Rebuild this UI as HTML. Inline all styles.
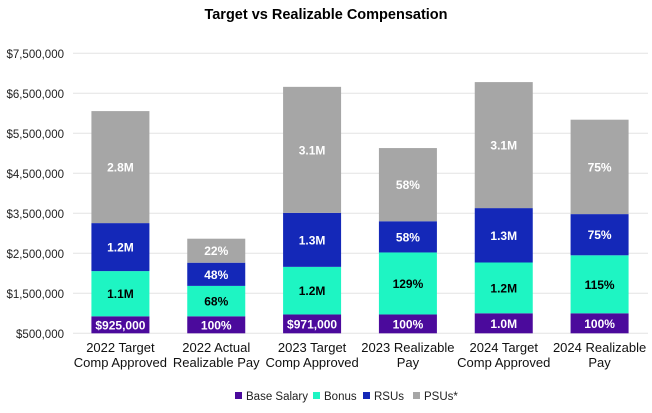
<!DOCTYPE html>
<html><head><meta charset="utf-8"><style>
body{margin:0;background:#fff;width:652px;height:408px;overflow:hidden;font-family:"Liberation Sans",Arial,sans-serif}
svg text{font-family:"Liberation Sans",Arial,sans-serif}
</style></head><body>
<svg id="chart" width="652" height="408" viewBox="0 0 652 408">
<text x="326" y="19" text-anchor="middle" font-size="14.5" font-weight="bold" fill="#000">Target vs Realizable Compensation</text>
<g id="grid"></g><g id="bars"></g><g id="xlabels"></g>
<g font-size="11.5" fill="#222">
<rect x="235" y="392" width="7" height="7" fill="#4B0A9C"/><text x="246" y="400">Base Salary</text>
<rect x="313" y="392" width="7" height="7" fill="#1EF5C3"/><text x="324" y="400">Bonus</text>
<rect x="363" y="392" width="7" height="7" fill="#1428B8"/><text x="374" y="400">RSUs</text>
<rect x="413" y="392" width="7" height="7" fill="#A6A6A6"/><text x="424" y="400">PSUs*</text>
</g>
</svg>
<script>
const categories=[["2022 Target","Comp Approved"],["2022 Actual","Realizable Pay"],["2023 Target","Comp Approved"],["2023 Realizable","Pay"],["2024 Target","Comp Approved"],["2024 Realizable","Pay"]];
const baseVals=[925000,925000,971000,971000,1000000,1000000];
const bonusVals=[1130000,760000,1190000,1550000,1270000,1450000];
const rsuVals=[1200000,580000,1350000,780000,1360000,1030000];
const psuVals=[2800000,600000,3150000,1830000,3150000,2360000];
const baseLabels=["$925,000","100%","$971,000","100%","1.0M","100%"];
const bonusLabels=["1.1M","68%","1.2M","129%","1.2M","115%"];
const rsuLabels=["1.2M","48%","1.3M","58%","1.3M","75%"];
const psuLabels=["2.8M","22%","3.1M","58%","3.1M","75%"];
const yTicks=[500000,1500000,2500000,3500000,4500000,5500000,6500000,7500000];
const NS="http://www.w3.org/2000/svg";
const plotL=73,plotR=648,yMin=500000,y0=333.3,pxPer=40/1000000;
const y=v=>y0-(Math.max(v,yMin)-yMin)*pxPer;
const bw=(plotR-plotL)/categories.length;
const xc=i=>plotL+bw*(i+0.5)-0.5;
function mk(tag,attrs,parent){const e=document.createElementNS(NS,tag);for(const k in attrs)e.setAttribute(k,attrs[k]);parent.appendChild(e);return e;}
const grid=document.getElementById('grid');
yTicks.forEach(t=>{
 const l=mk('line',{x1:plotL,x2:plotR,y1:y(t),y2:y(t),stroke:'#e3e3e3','stroke-width':1},grid);
 
 
 const tx=mk('text',{x:64,y:y(t)+4.5,'text-anchor':'end','font-size':'11.5',fill:'#222'},grid);
 tx.textContent='$'+t.toLocaleString('en-US');
 
 
});
const series=[[baseVals,'#4B0A9C','#fff',baseLabels,'base'],[bonusVals,'#1EF5C3','#000',bonusLabels,'bonus'],[rsuVals,'#1428B8','#fff',rsuLabels,'rsu'],[psuVals,'#A6A6A6','#fff',psuLabels,'psu']];
const bars=document.getElementById('bars');
const BW=58;
categories.forEach((c,i)=>{
 let cum=0;
 series.forEach(s=>{
  const v=s[0][i],y1=y(cum),y2=y(cum+v);
  const r=mk('rect',{x:xc(i)-BW/2,y:y2,width:BW,height:y1-y2,fill:s[1]},bars);
  
  
  const t=mk('text',{x:xc(i),y:(y1+y2)/2+4.5,'text-anchor':'middle','font-size':'12','font-weight':'bold',fill:s[2]},bars);
  t.textContent=s[3][i];
  
  
  cum+=v;
 });
 const xl=document.getElementById('xlabels');
 c.forEach((line,j)=>{
  const t=mk('text',{x:xc(i),y:352+j*15,'text-anchor':'middle','font-size':'13',fill:'#111'},xl);
  t.textContent=line;
  
  
 });
});
</script>
</body></html>
